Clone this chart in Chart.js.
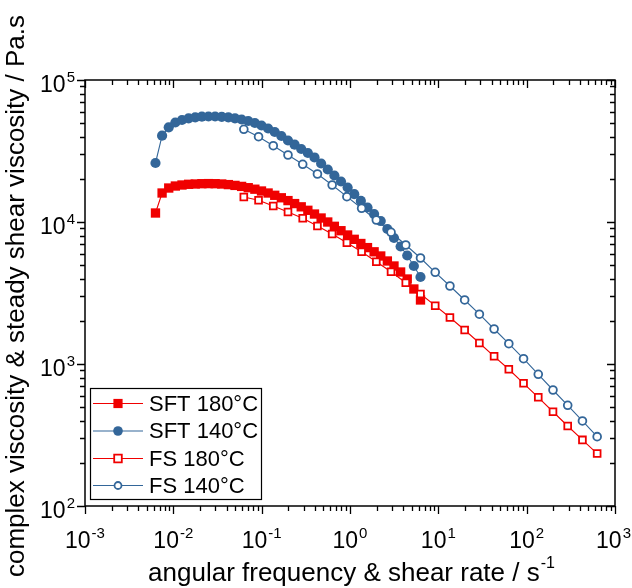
<!DOCTYPE html>
<html><head><meta charset="utf-8">
<script src="https://cdn.jsdelivr.net/npm/chart.js@4"></script>
<style>html,body{margin:0;padding:0;background:#fff}</style>
</head><body>
<canvas id="c" width="632" height="588"></canvas>
<script>
// ---- data ----
const seriesNames = ['SFT 180\u00b0C', 'SFT 140\u00b0C', 'FS 180\u00b0C', 'FS 140\u00b0C'];
// angular frequency (rad/s) for SFT sweeps
const sftX = [0.00628,0.00746,0.00887,0.01054,0.01253,0.01489,0.01770,0.02104,0.02500,0.02972,
  0.03532,0.04198,0.04989,0.05929,0.07047,0.08375,0.09954,0.1183,0.1406,0.1671,
  0.1986,0.2361,0.2805,0.3334,0.3963,0.4710,0.5598,0.6653,0.7907,0.9397,
  1.117,1.327,1.578,1.875,2.228,2.649,3.148,3.741,4.446,5.284,6.281];
const sft180 = [11570,16000,17350,17920,18220,18430,18520,18610,18640,18610,
  18520,18340,18100,17810,17440,17020,16530,16000,15420,14810,
  14150,13480,12790,12090,11380,10670,10000,9325,8683,8100,
  7553,7057,6602,6168,5763,5314,4900,4445,3968,3375,2824];
const sft140 = [26030,40540,46440,50200,52280,53740,54620,55150,55330,55330,
  55060,54530,53740,52700,51440,49800,47820,45540,43030,40330,
  37500,35030,32670,30610,28470,25820,23430,21260,19290,17500,
  15700,14080,12650,11380,10160,8925,7716,6722,5809,4900,4100];
// shear rate (1/s) for FS sweeps
const fsX = [0.0628,0.0922,0.1353,0.1986,0.2915,0.4279,0.628,0.9219,1.353,1.986,
  2.915,4.279,6.28,9.219,13.53,19.86,29.15,42.79,62.8,92.19,
  135.3,198.6,291.5,427.9,628];
const fs180 = [15000,14220,12960,11760,10620,9371,8232,7150,6177,5253,
  4467,3736,3112,2575,2126,1735,1406,1133,918,731,
  583,461,366,292,234];
const fs140 = [44950,39880,34450,29640,25490,21780,18220,15080,12490,10330,
  8464,6887,5577,4424,3543,2824,2243,1764,1390,1090,
  846,656,512,397,308];
const xTickExps = [-3,-2,-1,0,1,2,3];
const yTickExps = [2,3,4,5];
const xTitle = 'angular frequency & shear rate / s';
const xTitleSup = '-1';
const yTitle = 'complex viscosity & steady shear viscosity / Pa.s';

const RED = '#f00000', BLUE = '#336699';
const FONT = '"Liberation Sans", Arial, sans-serif';
const pts = (xs, ys) => xs.map((x, i) => ({x: x, y: ys[i]}));

const datasets = [
  {label: seriesNames[0], data: pts(sftX, sft180), borderColor: RED, backgroundColor: RED,
   pointStyle: 'rect', pointRadius: 6.6, pointBorderWidth: 0, borderWidth: 1.1, showLine: true, order: 1},
  {label: seriesNames[1], data: pts(sftX, sft140), borderColor: BLUE, backgroundColor: BLUE,
   pointStyle: 'circle', pointRadius: 5.1, pointBorderWidth: 0, borderWidth: 1.1, showLine: true, order: 2},
  {label: seriesNames[2], data: pts(fsX, fs180), borderColor: RED, backgroundColor: '#fff',
   pointBackgroundColor: '#fff', pointBorderColor: RED,
   pointStyle: 'rect', pointRadius: 4.8, pointBorderWidth: 1.8, borderWidth: 1.1, showLine: true, order: 0},
  {label: seriesNames[3], data: pts(fsX, fs140), borderColor: BLUE, backgroundColor: '#fff',
   pointBackgroundColor: '#fff', pointBorderColor: BLUE,
   pointStyle: 'circle', pointRadius: 3.9, pointBorderWidth: 1.8, borderWidth: 1.1, showLine: true, order: 0}
];

function drawPow(ctx, exp, x, y, size, supSize, mode) {
  ctx.font = size + 'px ' + FONT;
  const w10 = ctx.measureText('10').width;
  ctx.font = supSize + 'px ' + FONT;
  const wE = ctx.measureText(String(exp)).width;
  let x0;
  if (mode === 'right') x0 = x - w10 - wE - 1;
  else x0 = Math.min(x - (w10 + wE + 1) / 2, 631 - (w10 + wE + 1));
  ctx.textAlign = 'left';
  ctx.textBaseline = 'alphabetic';
  ctx.font = size + 'px ' + FONT;
  ctx.fillText('10', x0, y);
  ctx.font = supSize + 'px ' + FONT;
  ctx.fillText(String(exp), x0 + w10 + 1, y - size * 0.45);
}

const decor = {
  id: 'decor',
  afterDraw(chart) {
    const ctx = chart.ctx;
    const {left, right, top, bottom} = chart.chartArea;
    const xs = chart.scales.x, ys = chart.scales.y;
    ctx.save();
    ctx.strokeStyle = '#000';
    ctx.fillStyle = '#000';
    ctx.lineWidth = 1.5;
    ctx.strokeRect(left, top, right - left, bottom - top);
    ctx.lineWidth = 1.3;
    ctx.beginPath();
    for (let e = xTickExps[0]; e <= xTickExps[xTickExps.length - 1]; e++) {
      for (let m = 1; m <= 9; m++) {
        const v = m * Math.pow(10, e);
        if (v > xs.max * 1.0001) break;
        const px = Math.round(xs.getPixelForValue(v)) + 0.5;
        const len = m === 1 ? 8 : 5;
        ctx.moveTo(px, bottom); ctx.lineTo(px, bottom + len);
        ctx.moveTo(px, top); ctx.lineTo(px, top + len);
      }
    }
    for (let e = yTickExps[0]; e <= yTickExps[yTickExps.length - 1]; e++) {
      for (let m = 1; m <= 9; m++) {
        const v = m * Math.pow(10, e);
        if (v > ys.max * 1.0001) break;
        const py = Math.round(ys.getPixelForValue(v)) + 0.5;
        const len = m === 1 ? 8 : 5;
        ctx.moveTo(left, py); ctx.lineTo(left - len, py);
        ctx.moveTo(right, py); ctx.lineTo(right - len, py);
      }
    }
    ctx.stroke();
    xTickExps.forEach(e => {
      const px = xs.getPixelForValue(Math.pow(10, e));
      drawPow(ctx, e, px, bottom + 42, 23, 15, 'center');
    });
    yTickExps.forEach(e => {
      const py = ys.getPixelForValue(Math.pow(10, e));
      drawPow(ctx, e, left - 10, py + 12, 23, 15, 'right');
    });
    ctx.font = '26px ' + FONT;
    const wt = ctx.measureText(xTitle).width;
    ctx.font = '16px ' + FONT;
    const ws = ctx.measureText(xTitleSup).width;
    const tx = 351 - (wt + ws) / 2;
    ctx.textAlign = 'left';
    ctx.font = '26px ' + FONT;
    ctx.fillText(xTitle, tx, 581);
    ctx.font = '16px ' + FONT;
    ctx.fillText(xTitleSup, tx + wt + 1, 568);
    ctx.save();
    ctx.translate(24, 296);
    ctx.rotate(-Math.PI / 2);
    ctx.textAlign = 'center';
    ctx.font = '26px ' + FONT;
    ctx.fillText(yTitle, 0, 0);
    ctx.restore();
    // legend
    const lx = 90.5, ly = 388.5, lw = 171, lh = 111;
    ctx.lineWidth = 1.2;
    ctx.strokeStyle = '#000';
    ctx.strokeRect(lx, ly, lw, lh);
    const rows = [403.5, 431, 458.5, 485.5];
    chart.data.datasets.forEach((ds, i) => {
      const y = rows[i];
      ctx.strokeStyle = ds.borderColor;
      ctx.lineWidth = 1.2;
      ctx.beginPath(); ctx.moveTo(93, y); ctx.lineTo(143, y); ctx.stroke();
      ctx.fillStyle = ds.pointBackgroundColor || ds.backgroundColor;
      ctx.strokeStyle = ds.pointBorderColor || ds.borderColor;
      ctx.lineWidth = ds.pointBorderWidth;
      ctx.beginPath();
      const r = ds.pointStyle === 'rect' ? (ds.pointBorderWidth ? 3.8 : 4.6) : (ds.pointBorderWidth ? 3.5 : 4.8);
      if (ds.pointStyle === 'rect') ctx.rect(118 - r, y - r, 2 * r, 2 * r);
      else ctx.arc(118, y, r, 0, Math.PI * 2);
      ctx.fill();
      if (ds.pointBorderWidth) ctx.stroke();
      ctx.fillStyle = '#000';
      ctx.font = '22px ' + FONT;
      ctx.textAlign = 'left';
      ctx.textBaseline = 'middle';
      ctx.fillText(ds.label, 149, y + 1);
    });
    ctx.restore();
  }
};

new Chart(document.getElementById('c'), {
  type: 'scatter',
  data: {datasets: datasets},
  options: {
    responsive: false,
    animation: false,
    devicePixelRatio: 1,
    layout: {padding: {left: 85, right: 17, top: 80, bottom: 82}},
    plugins: {legend: {display: false}, tooltip: {enabled: false}},
    scales: {
      x: {type: 'logarithmic', min: 1e-3, max: 1e3, display: false},
      y: {type: 'logarithmic', min: 1e2, max: 1e5, display: false}
    }
  },
  plugins: [decor]
});
</script>
</body></html>
